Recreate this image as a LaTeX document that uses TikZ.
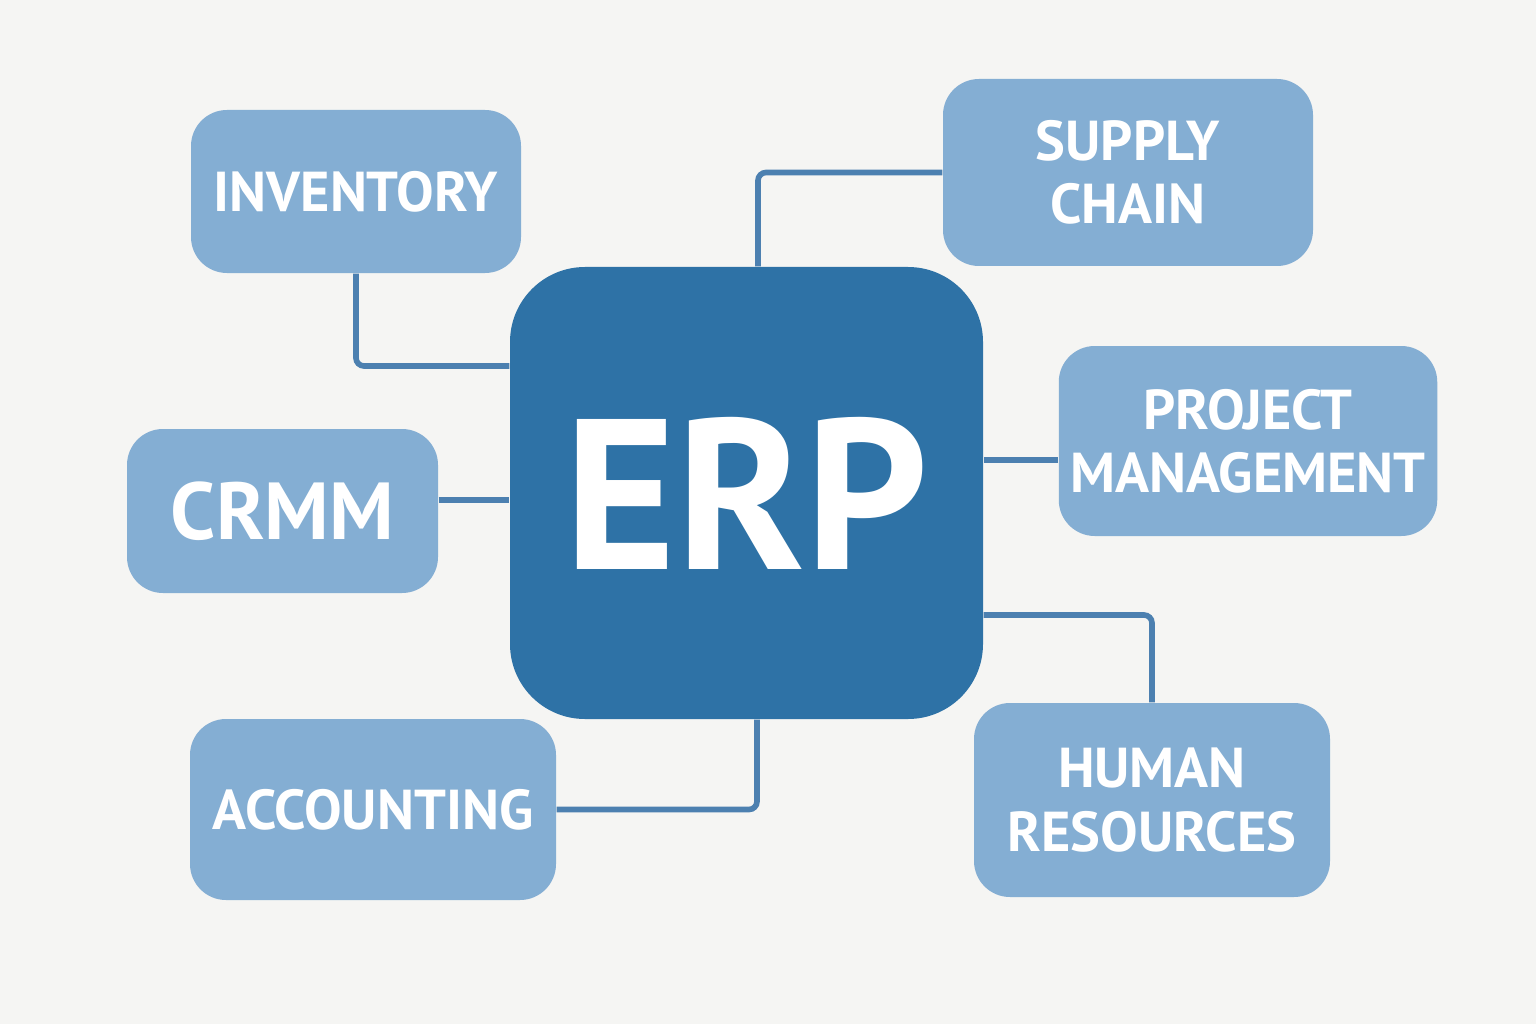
\documentclass[tikz,border=0pt]{standalone}
\usepackage{fontspec}
\setmainfont{PT Sans}
\definecolor{PageGray}{RGB}{245, 245, 243}
\definecolor{CoreBlue}{RGB}{46, 114, 166}
\definecolor{SoftBlue}{RGB}{132, 174, 211}
\definecolor{LinkBlue}{RGB}{76, 128, 176}
\usetikzlibrary{arrows.meta, positioning, calc}

\begin{document}
\begin{tikzpicture}[>=Stealth, every node/.style={font=\bfseries, text=white},
    module/.style={rounded corners=0.36cm, fill=SoftBlue, align=center, font=\bfseries\fontsize{16}{18}\selectfont},
    link/.style={LinkBlue, line width=1.6pt, rounded corners=0.08cm}]
    \fill[PageGray] (0,0) rectangle (15.36,10.24);
    \useasboundingbox (0,0) rectangle (15.36,10.24);
    % Core system
    \node[rounded corners=0.75cm, fill=CoreBlue, minimum width=4.73cm, minimum height=4.52cm, font=\bfseries\fontsize{61}{61}\selectfont] (erp) at (7.465,5.31) {ERP};
    % Modules around it
    \node[module, minimum width=3.30cm, minimum height=1.63cm] (inv) at (3.56,8.325) {INVENTORY};
    \node[module, minimum width=3.70cm, minimum height=1.87cm] (sup) at (11.28,8.515) {SUPPLY\\CHAIN};
    \node[module, minimum width=3.11cm, minimum height=1.64cm, font=\bfseries\fontsize{23}{23}\selectfont] (crm) at (2.825,5.13) {CRMM};
    \node[module, minimum width=3.78cm, minimum height=1.90cm] (prj) at (12.48,5.83) {PROJECT\\MANAGEMENT};
    \node[module, minimum width=3.66cm, minimum height=1.81cm] (acc) at (3.73,2.145) {ACCOUNTING};
    \node[module, minimum width=3.56cm, minimum height=1.94cm] (hr) at (11.52,2.24) {HUMAN\\RESOURCES};
    % Connectors
    \draw[link] (inv.south) |- (erp.west |- 0,6.58);
    \draw[link] (sup.west) -| (erp.north -| 7.58,0);
    \draw[link] ([yshift=1.1mm]crm.east) -- ([yshift=1.1mm]crm.east -| erp.west);
    \draw[link] ([yshift=-1.9mm]prj.west) -- ([yshift=-1.9mm]prj.west -| erp.east);
    \draw[link] (acc.east) -| (erp.south -| 7.57,0);
    \draw[link] (erp.east |- 0,4.09) -| (hr.north);
\end{tikzpicture}
\end{document}
